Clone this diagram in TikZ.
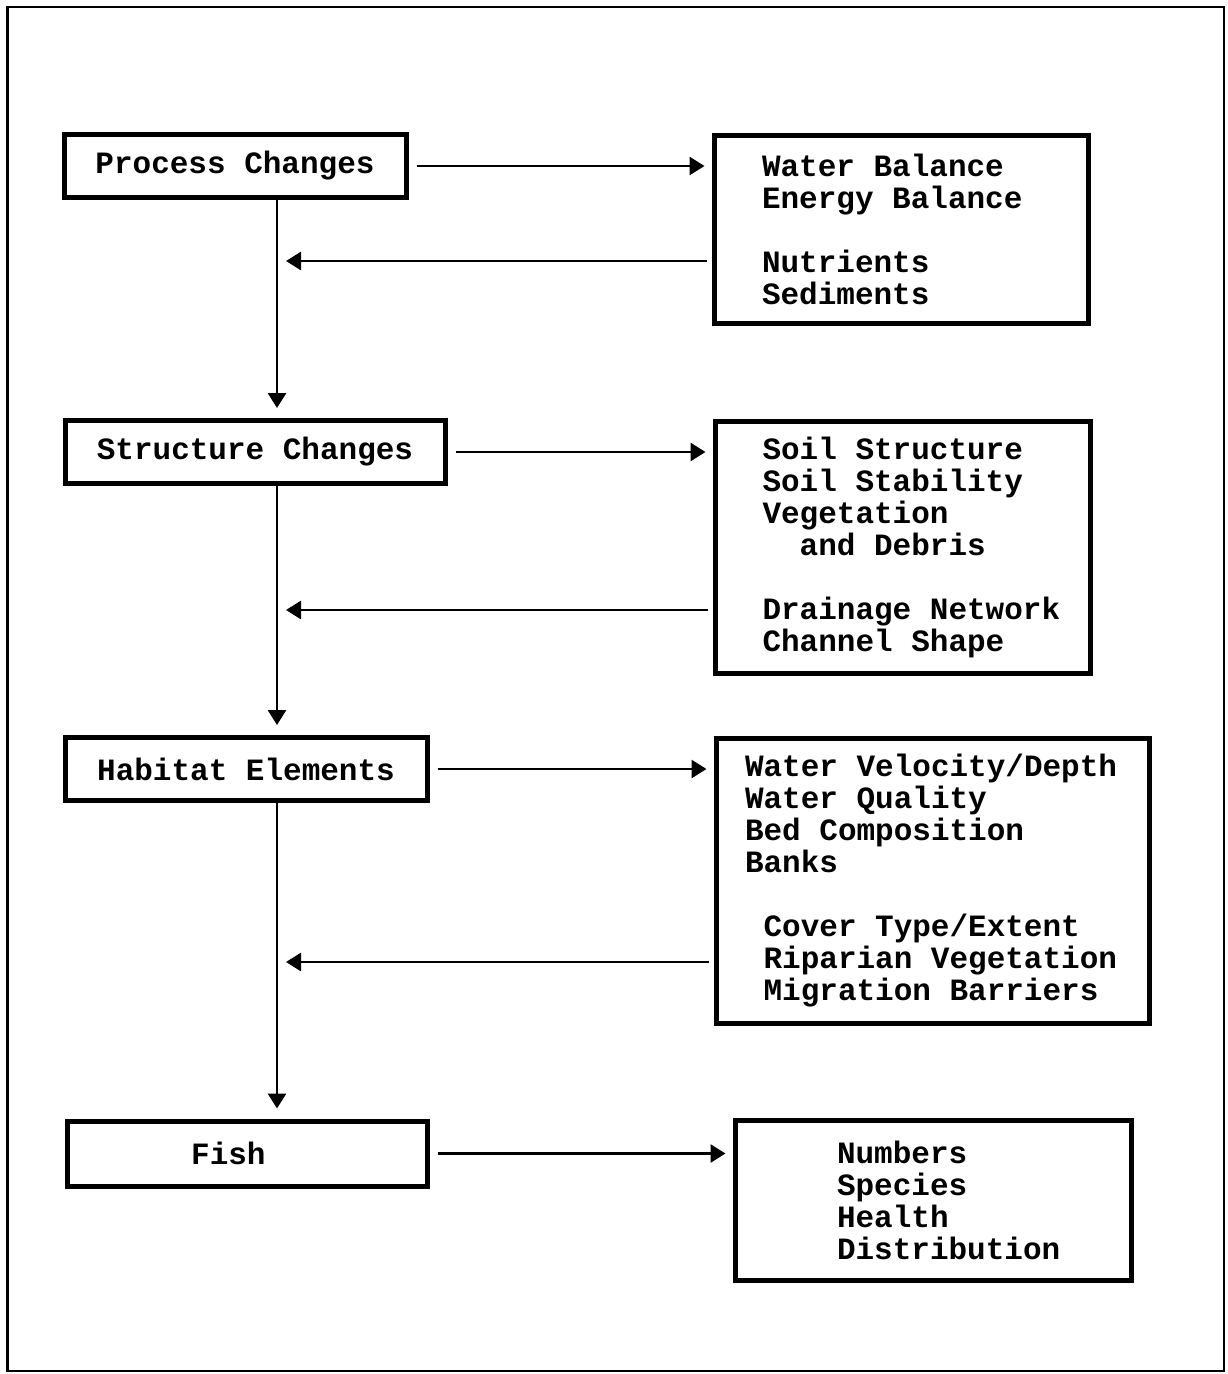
\documentclass[tikz,border=0pt]{standalone}
\usepackage{fontspec}
\setmainfont{Liberation Mono}[WordSpace={1,0,0}]
\usetikzlibrary{arrows.meta}
\hyphenpenalty=10000
\exhyphenpenalty=10000

\begin{document}
\begin{tikzpicture}[x=1pt,y=-1pt,
    font=\bfseries\fontsize{31}{32}\selectfont,
    stage/.style={draw,line width=5pt,inner sep=0pt,minimum height=63pt},
    list/.style={draw,line width=5pt,inner sep=0pt,align=left,
        execute at begin node={\spaceskip=0.6em\relax}},
    link/.style={line width=2.8pt,-{Triangle[length=15pt,width=18pt]}}]
    \useasboundingbox (0,0) rectangle (1228,1374);
    \draw[line width=2.5pt] (7.5,7) rectangle (1224,1371);
    \coordinate (spine) at (277,0);

    \node[stage,minimum width=342pt] (process) at (235,166) {Process Changes};
    \node[stage,minimum width=380pt] (structure) at (255,452) {Structure Changes};
    \node[stage,minimum width=362pt] (habitat) at (246,769) {Habitat Elements};
    \node[stage,minimum width=360pt,minimum height=65pt] (fish) at (247,1153.5) {Fish\hspace*{1.2em}};

    \node[list,minimum width=374pt,minimum height=188pt,text width=278pt] (balances) at (901,229)
        {Water Balance\\Energy Balance\\[32pt]Nutrients\\Sediments};
    \node[list,minimum width=375pt,minimum height=252pt,text width=280pt] (soils) at (902.5,547)
        {Soil Structure\\Soil Stability\\Vegetation\\\hspace*{1.2em}and Debris\\[32pt]\mbox{Drainage Network}\\Channel Shape};
    \node[list,minimum width=433pt,minimum height=285pt,text width=375pt] (stream) at (932.5,880.5)
        {\mbox{Water Velocity/Depth}\\Water Quality\\Bed Composition\\Banks\\[32pt]%
        \hspace*{0.6em}Cover Type/Extent\\\hspace*{0.6em}\mbox{Riparian Vegetation}\\\hspace*{0.6em}Migration Barriers};
    \node[list,minimum width=396pt,minimum height=160pt,text width=192pt] (stats) at (933,1200)
        {Numbers\\Species\\Health\\Distribution};

\foreach \a/\b in {process/balances,structure/soils,habitat/stream,fish/stats}
{
    \draw[link,shorten <=8pt,shorten >=7pt] (\a.east) -- (\a.east -| \b.west);
}
\foreach \a/\b in {process/structure,structure/habitat,habitat/fish}
{
    \draw[link,shorten >=10pt] (\a.south -| spine) -- (\b.north -| spine);
}
\foreach \b/\y in {balances/261,soils/610,stream/962}
{
    \draw[link,shorten <=5pt,shorten >=9pt] (\b.west |- 0,\y) -- (spine |- 0,\y);
}
\end{tikzpicture}
\end{document}
